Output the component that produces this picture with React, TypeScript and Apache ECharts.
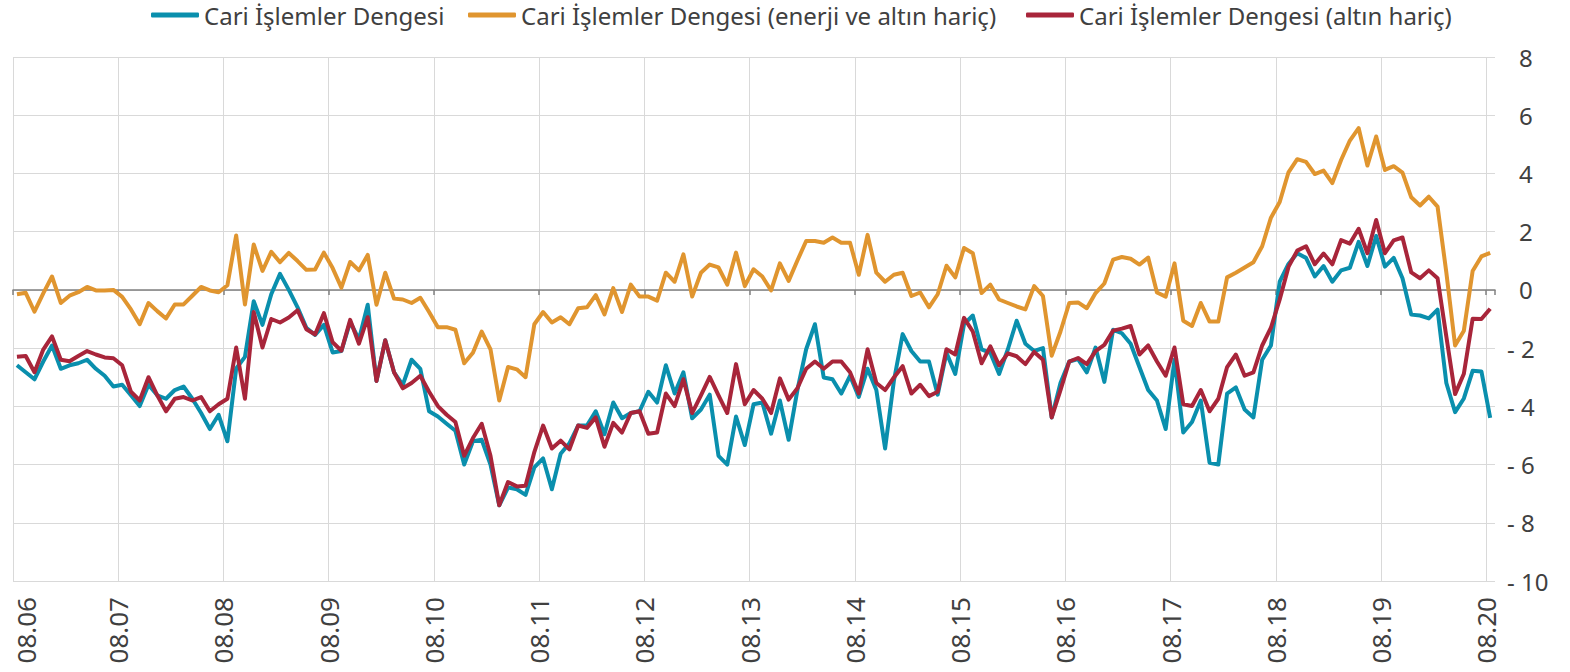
import React, { useEffect, useRef } from "react";
import * as echarts from "echarts";

const tickLabels = ["08.06","08.07","08.08","08.09","08.10","08.11","08.12","08.13","08.14","08.15","08.16","08.17","08.18","08.19","08.20"];
const seriesNames = ["Cari İşlemler Dengesi", "Cari İşlemler Dengesi (enerji ve altın hariç)", "Cari İşlemler Dengesi (altın hariç)"];

const total = [
  -2.59,-2.83,-3.07,-2.46,-1.91,-2.71,-2.59,-2.52,-2.40,-2.71,-2.95,-3.32,
  -3.26,-3.62,-3.99,-3.26,-3.62,-3.74,-3.44,-3.32,-3.74,-4.23,-4.78,-4.29,
  -5.20,-2.70,-2.30,-0.39,-1.20,-0.15,0.55,0.00,-0.60,-1.30,-1.55,-1.20,
  -2.15,-2.10,-1.10,-1.70,-0.51,-3.13,-1.73,-2.83,-3.26,-2.40,-2.71,-4.17,
  -4.35,-4.60,-4.84,-6.00,-5.20,-5.15,-6.00,-7.40,-6.79,-6.85,-7.04,-6.10,
  -5.79,-6.85,-5.63,-5.27,-4.66,-4.66,-4.17,-4.96,-3.87,-4.41,-4.23,-4.17,
  -3.50,-3.87,-2.59,-3.56,-2.83,-4.41,-4.11,-3.60,-5.70,-6.00,-4.35,-5.33,
  -3.93,-3.87,-4.94,-3.80,-5.15,-3.44,-2.04,-1.18,-3.01,-3.07,-3.56,-2.95,
  -3.68,-2.71,-3.44,-5.45,-3.13,-1.52,-2.10,-2.46,-2.46,-3.60,-2.16,-2.89,
  -1.18,-0.88,-2.04,-2.16,-2.89,-2.04,-1.06,-1.85,-2.10,-2.00,-4.38,-3.20,
  -2.46,-2.38,-2.83,-1.98,-3.16,-1.37,-1.49,-1.85,-2.65,-3.44,-3.80,-4.78,
  -2.40,-4.90,-4.54,-3.80,-5.94,-6.00,-3.56,-3.35,-4.11,-4.38,-2.40,-1.91,
  0.28,0.89,1.26,1.10,0.46,0.82,0.28,0.67,0.76,1.65,0.82,1.85,
  0.80,1.10,0.40,-0.85,-0.88,-0.98,-0.68,-3.20,-4.20,-3.73,-2.78,-2.80,
  -4.40
];

const exEnergyGold = [
  -0.15,-0.10,-0.75,-0.12,0.46,-0.45,-0.20,-0.08,0.10,-0.02,-0.02,0.00,
  -0.24,-0.67,-1.18,-0.45,-0.73,-0.98,-0.50,-0.50,-0.20,0.10,-0.02,-0.08,
  0.16,1.87,-0.50,1.56,0.65,1.31,0.95,1.27,0.99,0.69,0.70,1.28,
  0.75,0.08,0.96,0.67,1.20,-0.51,0.59,-0.30,-0.33,-0.45,-0.27,-0.76,
  -1.28,-1.28,-1.37,-2.52,-2.16,-1.43,-2.04,-3.80,-2.65,-2.73,-3.00,-1.18,
  -0.76,-1.12,-0.94,-1.18,-0.63,-0.60,-0.18,-0.84,0.06,-0.76,0.18,-0.23,
  -0.23,-0.37,0.59,0.28,1.22,-0.23,0.59,0.87,0.77,0.18,1.28,0.13,
  0.71,0.46,-0.02,0.91,0.31,1.01,1.68,1.68,1.62,1.80,1.62,1.62,
  0.52,1.89,0.59,0.28,0.52,0.59,-0.21,-0.09,-0.60,-0.15,0.83,0.43,
  1.44,1.26,-0.11,0.18,-0.33,-0.45,-0.57,-0.67,0.13,-0.21,-2.26,-1.43,
  -0.45,-0.43,-0.63,-0.11,0.22,1.04,1.13,1.07,0.87,1.11,-0.09,-0.23,
  0.91,-1.06,-1.24,-0.45,-1.09,-1.09,0.43,0.59,0.77,0.95,1.50,2.48,
  3.02,4.04,4.49,4.40,3.98,4.10,3.67,4.46,5.13,5.56,4.27,5.27,
  4.12,4.25,4.03,3.18,2.90,3.20,2.86,0.60,-1.91,-1.40,0.65,1.15,
  1.27
];

const exGold = [
  -2.30,-2.27,-2.83,-2.05,-1.60,-2.40,-2.45,-2.27,-2.10,-2.22,-2.32,-2.35,
  -2.59,-3.50,-3.80,-3.00,-3.62,-4.17,-3.74,-3.68,-3.80,-3.68,-4.17,-3.93,
  -3.74,-1.98,-3.74,-0.76,-1.98,-1.00,-1.12,-0.95,-0.70,-1.35,-1.53,-0.80,
  -1.80,-2.09,-1.03,-1.85,-0.94,-3.13,-1.73,-2.83,-3.38,-3.20,-2.95,-3.50,
  -3.99,-4.29,-4.54,-5.70,-5.09,-4.60,-5.70,-7.40,-6.60,-6.75,-6.73,-5.57,
  -4.66,-5.45,-5.18,-5.48,-4.66,-4.74,-4.38,-5.39,-4.57,-4.90,-4.23,-4.17,
  -4.94,-4.90,-3.56,-3.99,-3.07,-4.23,-3.62,-2.99,-3.62,-4.23,-2.55,-3.93,
  -3.44,-3.74,-4.23,-3.04,-3.77,-3.38,-2.71,-2.46,-2.71,-2.46,-2.46,-2.83,
  -3.56,-2.04,-3.20,-3.44,-3.01,-2.62,-3.56,-3.26,-3.65,-3.50,-2.04,-2.22,
  -0.96,-1.43,-2.52,-1.94,-2.59,-2.18,-2.28,-2.55,-2.13,-2.40,-4.38,-3.44,
  -2.46,-2.34,-2.55,-2.10,-1.89,-1.40,-1.33,-1.24,-2.22,-1.91,-2.46,-2.95,
  -1.98,-3.93,-3.99,-3.44,-4.17,-3.74,-2.65,-2.22,-2.95,-2.83,-1.91,-1.30,
  -0.33,0.79,1.35,1.50,0.88,1.25,0.88,1.71,1.59,2.10,1.26,2.40,
  1.26,1.70,1.80,0.60,0.40,0.67,0.40,-1.60,-3.58,-2.88,-0.99,-1.00,
  -0.65
];

const colors = ["#0a8fad", "#e0952f", "#a8253a"];
const FONT = "'Noto Sans', 'DejaVu Sans', sans-serif";
const POINT_OFFSET = 0.45;
const MONTHS = 12;
const X_MAX = (tickLabels.length - 1) * MONTHS + 1;

function toPoints(arr: number[]) {
  return arr.map((v, i) => [i + POINT_OFFSET, v]);
}

export default function App() {
  const ref = useRef<HTMLDivElement>(null);
  useEffect(() => {
    if (!ref.current) return;
    const chart = echarts.init(ref.current, undefined, { renderer: "svg" });
    const gridColors = tickLabels.map(() => "#d9d9d9").concat(["rgba(0,0,0,0)"]);
    const legendBase = {
      top: 3,
      padding: 0,
      icon: "roundRect",
      itemWidth: 48,
      itemHeight: 5,
      textStyle: { fontSize: 24, color: "#404040", fontFamily: FONT },
      selectedMode: false,
    };
    chart.setOption({
      animation: false,
      backgroundColor: "#ffffff",
      legend: [
        { ...legendBase, left: 151, data: [seriesNames[0]] },
        { ...legendBase, left: 468, data: [seriesNames[1]] },
        { ...legendBase, left: 1026, data: [seriesNames[2]] },
      ],
      grid: { left: 13, right: 75, top: 57, bottom: 91 },
      xAxis: [
        {
          type: "value",
          min: 0,
          max: X_MAX,
          interval: MONTHS,
          axisLine: { show: true, onZero: true, lineStyle: { color: "#808080", width: 1.5 } },
          axisTick: { show: true, length: 5, lineStyle: { color: "#808080", width: 1.5 } },
          axisLabel: { show: false },
          splitLine: { show: true, lineStyle: { color: gridColors, width: 1 } },
        },
        {
          type: "value",
          min: 0,
          max: X_MAX,
          interval: MONTHS,
          position: "bottom",
          axisLine: { show: false, onZero: false },
          axisTick: { show: false },
          splitLine: { show: false },
          axisLabel: {
            show: true,
            rotate: 90,
            margin: 16,
            fontSize: 26,
            color: "#404040",
            fontFamily: FONT,
            showMinLabel: true,
            showMaxLabel: true,
            verticalAlignMinLabel: "top",
            formatter: (v: number) => (v % MONTHS === 0 ? tickLabels[v / MONTHS] : ""),
          },
        },
      ],
      yAxis: {
        type: "value",
        position: "right",
        min: -10,
        max: 8,
        interval: 2,
        axisLine: { show: false },
        axisTick: { show: false },
        splitLine: { show: true, lineStyle: { color: "#d9d9d9", width: 1 } },
        axisLabel: {
          align: "left",
          margin: 12,
          fontSize: 24,
          color: "#404040",
          fontFamily: FONT,
          formatter: (v: number) => (v < 0 ? "- " + Math.abs(v) : "\u2002" + v),
        },
      },
      series: [
        { name: seriesNames[0], data: toPoints(total) },
        { name: seriesNames[1], data: toPoints(exEnergyGold) },
        { name: seriesNames[2], data: toPoints(exGold) },
      ].map((s, k) => ({
        ...s,
        type: "line",
        xAxisIndex: 0,
        showSymbol: false,
        symbol: "none",
        color: colors[k],
        lineStyle: { width: 4, color: colors[k], join: "round" },
        z: 3 + k,
      })),
    });
    return () => chart.dispose();
  }, []);
  return (
    <div
      ref={ref}
      style={{ position: "absolute", left: 0, top: 0, width: 1570, height: 672, background: "#fff" }}
    />
  );
}
